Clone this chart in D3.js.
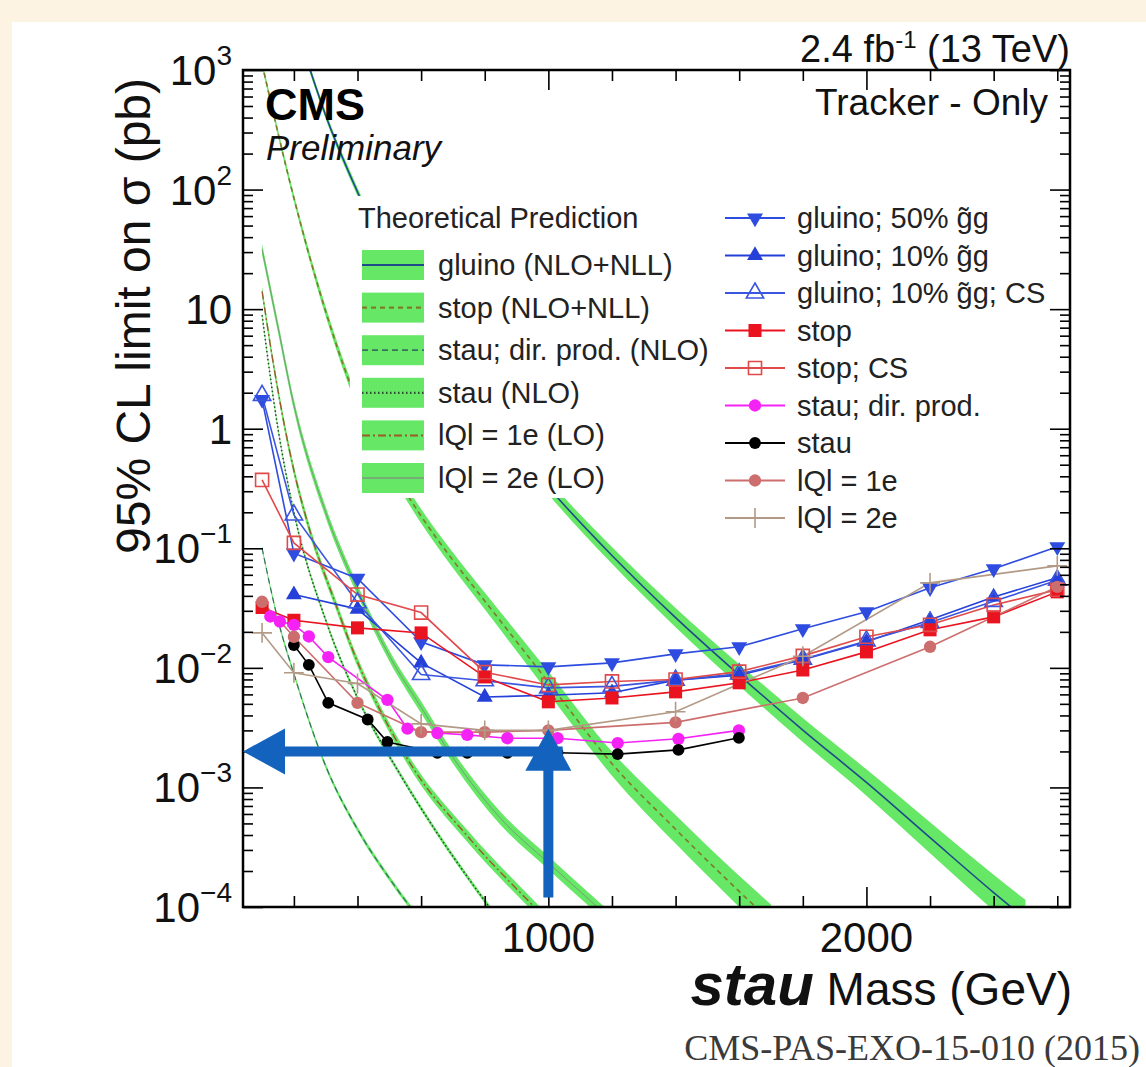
<!DOCTYPE html>
<html lang="en">
<head>
	<meta charset="UTF-8">
	<title>HSCP limits - tracker only</title>
	<script src="https://cdnjs.cloudflare.com/ajax/libs/d3/7.8.5/d3.min.js"></script>
	<style>
		body{
			margin: 0px;
			background: #fdf3e2;
		}
		svg{
			display: block;
		}
		text{
			font-family: "Liberation Sans", Arial, Helvetica, sans-serif;
		}
	</style>
</head>
<body>
	<svg></svg>
	<script>
		// ---- observed limits (pb) ----
		var massFull = [100, 200, 400, 600, 800, 1000, 1200, 1400, 1600, 1800, 2000, 2200, 2400, 2600];
		var massNo100 = [200, 400, 600, 800, 1000, 1200, 1400, 1600, 1800, 2000, 2200, 2400, 2600];
		var gluino50 = [1.75, 0.091, 0.056, 0.0165, 0.0106, 0.0102, 0.0110, 0.0131, 0.0150, 0.0212, 0.0294, 0.0467, 0.0673, 0.103];
		var gluino10 = [0.041, 0.031, 0.011, 0.0057, 0.0059, 0.0062, 0.0079, 0.0087, 0.0117, 0.0165, 0.0252, 0.0392, 0.0566];
		var gluino10CS = [1.9, 0.19, 0.035, 0.0088, 0.0078, 0.0068, 0.0070, 0.0079, 0.0089, 0.0118, 0.0168, 0.0240, 0.0360, 0.0540];
		var stop = [0.032, 0.025, 0.0216, 0.0196, 0.0084, 0.0052, 0.0056, 0.0063, 0.0075, 0.0096, 0.0136, 0.0208, 0.0267, 0.0432];
		var stopCS = [0.373, 0.111, 0.041, 0.029, 0.0092, 0.0072, 0.0077, 0.0080, 0.0093, 0.0126, 0.0182, 0.0229, 0.0336, 0.0450];

		var stauDirMass = [126, 156, 200, 247, 308, 494, 557, 651, 745, 871, 1029, 1218, 1409, 1599];
		var stauDir = [0.0269, 0.0244, 0.0229, 0.0183, 0.0123, 0.0054, 0.0031, 0.00285, 0.00275, 0.00258, 0.00258, 0.00235, 0.00255, 0.0030];
		var stauMass = [200, 247, 308, 432, 494, 651, 745, 871, 1029, 1218, 1409, 1599];
		var stau = [0.0155, 0.0106, 0.0051, 0.0037, 0.0024, 0.00195, 0.00195, 0.00195, 0.00195, 0.0019, 0.00206, 0.0026];

		var qMass = [100, 200, 400, 600, 800, 1000, 1400, 1800, 2200, 2600];
		var q1e = [0.0357, 0.0182, 0.0051, 0.0029, 0.0029, 0.0030, 0.0035, 0.0056, 0.0150, 0.0476];
		var q2e = [0.0196, 0.0091, 0.0074, 0.0034, 0.0030, 0.0030, 0.0043, 0.0125, 0.0514, 0.0713];

		// ---- theory cross sections (pb) and band half-width (dex) ----
		var gluinoThMass = [240, 300, 400, 500, 600, 800, 1000, 1200, 1400, 1600, 1800, 2000, 2200, 2400, 2500];
		var gluinoThXsec = [1230, 417, 95.5, 26.3, 9.12, 1.48, 0.324, 0.0871, 0.0263, 0.00871, 0.00302, 0.0011, 0.00038, 0.000132, 0.0000794];
		var gluinoThDex = [0.03, 0.03, 0.035, 0.035, 0.04, 0.05, 0.06, 0.07, 0.08, 0.09, 0.10, 0.11, 0.13, 0.15, 0.16];

		var stopThMass = [100, 200, 300, 400, 500, 600, 700, 800, 900, 1000, 1200, 1400, 1600, 1700];
		var stopThXsec = [1122, 85.1, 9.55, 1.66, 0.50, 0.186, 0.0794, 0.0363, 0.0166, 0.00759, 0.00158, 0.000447, 0.000135, 0.0000759];
		var stopThDex = [0.03, 0.03, 0.04, 0.045, 0.05, 0.06, 0.065, 0.07, 0.08, 0.09, 0.10, 0.12, 0.13, 0.14];

		var stauDirThMass = [100, 150, 200, 300, 400, 500, 600];
		var stauDirThXsec = [0.1, 0.0251, 0.00891, 0.00151, 0.000447, 0.000174, 0.0000759];
		var stauDirThDex = [0.02, 0.02, 0.02, 0.02, 0.02, 0.02, 0.02];

		var stauThMass = [100, 150, 200, 300, 400, 525, 650, 814, 850];
		var stauThXsec = [8.91, 1.0, 0.2, 0.0251, 0.00562, 0.00141, 0.000417, 0.0001, 0.0000741];
		var stauThDex = [0.02, 0.02, 0.02, 0.02, 0.02, 0.02, 0.02, 0.02, 0.02];

		var q1ThMass = [100, 144, 200, 250, 325, 400, 480, 578, 750, 956, 1000];
		var q1ThXsec = [14.1, 2.57, 0.447, 0.141, 0.038, 0.0112, 0.00398, 0.00141, 0.00038, 0.0001, 0.000076];
		var q1ThDex = [0.04, 0.04, 0.04, 0.04, 0.04, 0.04, 0.04, 0.045, 0.05, 0.05, 0.05];

		var q2ThMass = [100, 150, 200, 300, 400, 500, 600, 700, 850, 1000, 1154, 1200];
		var q2ThXsec = [31.6, 7.08, 1.58, 0.2, 0.0447, 0.0126, 0.00468, 0.00178, 0.00055, 0.000234, 0.0001, 0.0000776];
		var q2ThDex = [0.045, 0.045, 0.045, 0.045, 0.045, 0.045, 0.05, 0.05, 0.055, 0.055, 0.055, 0.055];

		// ---- axis labels ----
		var yTickValues = [1e3, 1e2, 10, 1, 0.1, 0.01, 0.001, 1e-4];
		var yTickBase = ["10", "10", "10", "1", "10", "10", "10", "10"];
		var yTickExp = ["3", "2", "", "", "\u22121", "\u22122", "\u22123", "\u22124"];
		var xTickValues = [1000, 2000];
		var xMinorValues = [200, 400, 600, 800, 1200, 1400, 1600, 1800, 2200, 2400, 2600];

		var arrowMass = 1000, arrowLimit = 0.002;

		window.onload = () => {
			var W = 1146,
				H = 1067,
				svg = d3.select("svg").attr("width", W).attr("height", H);

			var L = 243, R = 1070, T = 70, B = 907;
			var x = d3.scaleLinear().domain([40, 2640]).range([L, R]);
			var y = d3.scaleLog().domain([1e-4, 1e3]).range([B, T]);

			svg.append("rect").attr("width", W).attr("height", H).attr("fill", "#fdf3e2");
			svg.append("rect").attr("x", 12).attr("y", 22).attr("width", W - 12).attr("height", H - 22).attr("fill", "#fff");

			svg.append("defs").append("clipPath").attr("id", "clip")
				.append("rect").attr("x", L).attr("y", T).attr("width", R - L).attr("height", B - T);

			var plot = svg.append("g").attr("clip-path", "url(#clip)");
			var bandColor = "#66e866";

			var theory = [
				{label: "gluino (NLO+NLL)", m: gluinoThMass, s: gluinoThXsec, d: gluinoThDex, stroke: "#1f4a8a", w: 1.6, dash: null},
				{label: "stop (NLO+NLL)", m: stopThMass, s: stopThXsec, d: stopThDex, stroke: "#7f7a2a", w: 1.6, dash: "5,4"},
				{label: "stau; dir. prod. (NLO)", m: stauDirThMass, s: stauDirThXsec, d: stauDirThDex, stroke: "#3a7060", w: 1.2, dash: "6,4"},
				{label: "stau (NLO)", m: stauThMass, s: stauThXsec, d: stauThDex, stroke: "#2b4a30", w: 1.6, dash: "1.5,2.5"},
				{label: "lQl = 1e (LO)", m: q1ThMass, s: q1ThXsec, d: q1ThDex, stroke: "#9a5a2a", w: 1.4, dash: "8,3,2,3"},
				{label: "lQl = 2e (LO)", m: q2ThMass, s: q2ThXsec, d: q2ThDex, stroke: "#7d9a7d", w: 1.0, dash: null}
			];

			var band = d3.area().curve(d3.curveMonotoneX)
				.x(d => x(d.m))
				.y0(d => y(d.s * Math.pow(10, -d.d)))
				.y1(d => y(d.s * Math.pow(10, d.d)));
			var thLine = d3.line().curve(d3.curveMonotoneX).x(d => x(d.m)).y(d => y(d.s));

			theory.forEach(c => {
				c.pts = c.m.map((m, i) => ({m: m, s: c.s[i], d: c.d[i]}));
				plot.append("path").datum(c.pts).attr("d", band).attr("fill", bandColor);
			});
			theory.forEach(c => {
				plot.append("path").datum(c.pts).attr("d", thLine)
					.attr("fill", "none").attr("stroke", c.stroke).attr("stroke-width", c.w)
					.attr("stroke-dasharray", c.dash);
			});

			// measured limits
			var series = [
				{label: "gluino; 50% g\u0303g", m: massFull, s: gluino50, color: "#2e4de0", sym: d3.symbolTriangle, size: 110, rot: 180, open: false},
				{label: "gluino; 10% g\u0303g", m: massNo100, s: gluino10, color: "#2440d8", sym: d3.symbolTriangle, size: 110, rot: 0, open: false},
				{label: "gluino; 10% g\u0303g; CS", m: massFull, s: gluino10CS, color: "#3a55e0", sym: d3.symbolTriangle, size: 130, rot: 0, open: true},
				{label: "stop", m: massFull, s: stop, color: "#ea1420", sym: d3.symbolSquare, size: 170, rot: 0, open: false},
				{label: "stop; CS", m: massFull, s: stopCS, color: "#e04a4a", sym: d3.symbolSquare, size: 170, rot: 0, open: true},
				{label: "stau; dir. prod.", m: stauDirMass, s: stauDir, color: "#f522f5", sym: d3.symbolCircle, size: 120, rot: 0, open: false},
				{label: "stau", m: stauMass, s: stau, color: "#000000", sym: d3.symbolCircle, size: 110, rot: 0, open: false},
				{label: "lQl = 1e", m: qMass, s: q1e, color: "#cd6e6e", sym: d3.symbolCircle, size: 120, rot: 0, open: false},
				{label: "lQl = 2e", m: qMass, s: q2e, color: "#b39a86", sym: d3.symbolPlus, size: 130, rot: 0, open: true}
			];

			var dataLine = d3.line().x(d => x(d.m)).y(d => y(d.s));

			function marker(sel, c, px, py) {
				var p = sel.append("path")
					.attr("d", d3.symbol().type(c.sym).size(c.size)())
					.attr("transform", "translate(" + px + "," + py + ") rotate(" + c.rot + ")");
				if (c.open) {
					p.attr("fill", "none").attr("stroke", c.color).attr("stroke-width", 1.6);
				} else {
					p.attr("fill", c.color);
				}
			}

			series.forEach(c => {
				c.pts = c.m.map((m, i) => ({m: m, s: c.s[i]}));
				plot.append("path").datum(c.pts).attr("d", dataLine)
					.attr("fill", "none").attr("stroke", c.color).attr("stroke-width", 1.6);
			});
			series.forEach(c => {
				c.pts.forEach(p => marker(plot, c, x(p.m), y(p.s)));
			});

			// legends
			var leg = svg.append("g");
			leg.append("rect").attr("x", 350).attr("y", 196).attr("width", 705).attr("height", 302).attr("fill", "#fff");
			leg.append("rect").attr("x", 718).attr("y", 495).attr("width", 337).attr("height", 42).attr("fill", "#fff");

			leg.append("text").attr("x", 358).attr("y", 228).attr("font-size", 29).attr("fill", "#222")
				.text("Theoretical Prediction");

			theory.forEach((c, i) => {
				var cy = 265 + i * 42.6;
				leg.append("rect").attr("x", 362).attr("y", cy - 15).attr("width", 62).attr("height", 30).attr("fill", bandColor);
				leg.append("line").attr("x1", 362).attr("x2", 424).attr("y1", cy).attr("y2", cy)
					.attr("stroke", c.stroke).attr("stroke-width", c.w + 0.6).attr("stroke-dasharray", c.dash);
				leg.append("text").attr("x", 438).attr("y", cy + 10).attr("font-size", 29).attr("fill", "#222")
					.text(c.label);
			});

			series.forEach((c, i) => {
				var cy = 218 + i * 37.5;
				leg.append("line").attr("x1", 725).attr("x2", 785).attr("y1", cy).attr("y2", cy)
					.attr("stroke", c.color).attr("stroke-width", 1.8);
				marker(leg, c, 755, cy);
				leg.append("text").attr("x", 797).attr("y", cy + 10).attr("font-size", 29).attr("fill", "#222")
					.text(c.label);
			});

			// frame and ticks
			var yMinor = [];
			for (var k = -4; k < 3; k++) {
				for (var j = 2; j < 10; j++) yMinor.push(j * Math.pow(10, k));
			}
			function ticks(axis, tr, vals, size) {
				var a = svg.append("g").attr("transform", tr)
					.call(axis.tickValues(vals).tickSize(size).tickFormat(""));
				a.select(".domain").remove();
				a.selectAll("line").attr("stroke", "#000").attr("stroke-width", 1.6);
			}
			ticks(d3.axisRight(y), "translate(" + L + ",0)", yTickValues, 20);
			ticks(d3.axisRight(y), "translate(" + L + ",0)", yMinor, 10);
			ticks(d3.axisLeft(y), "translate(" + R + ",0)", yTickValues, 20);
			ticks(d3.axisLeft(y), "translate(" + R + ",0)", yMinor, 10);
			ticks(d3.axisTop(x), "translate(0," + B + ")", xTickValues, 20);
			ticks(d3.axisTop(x), "translate(0," + B + ")", xMinorValues, 11);
			ticks(d3.axisBottom(x), "translate(0," + T + ")", xTickValues, 20);
			ticks(d3.axisBottom(x), "translate(0," + T + ")", xMinorValues, 11);

			svg.append("rect").attr("x", L).attr("y", T).attr("width", R - L).attr("height", B - T)
				.attr("fill", "none").attr("stroke", "#000").attr("stroke-width", 2.5);

			// tick labels
			yTickValues.forEach((v, i) => {
				var t = svg.append("text").attr("x", 232).attr("y", y(v) + 15)
					.attr("text-anchor", "end").attr("font-size", 42).attr("fill", "#111");
				t.append("tspan").text(yTickBase[i]);
				if (yTickExp[i]) {
					t.append("tspan").attr("dy", -20).attr("font-size", 28).text(yTickExp[i]);
				}
			});
			xTickValues.forEach(v => {
				svg.append("text").attr("x", x(v)).attr("y", 952).attr("text-anchor", "middle")
					.attr("font-size", 42).attr("fill", "#111").text(v);
			});

			// axis titles
			svg.append("text").attr("transform", "translate(150,316) rotate(-90)")
				.attr("text-anchor", "middle").attr("font-size", 48).attr("fill", "#111")
				.text("95% CL limit on \u03c3 (pb)");
			var xt = svg.append("text").attr("x", 1072).attr("y", 1005).attr("text-anchor", "end").attr("fill", "#111");
			xt.append("tspan").attr("font-size", 60).attr("font-weight", "bold").attr("font-style", "italic").text("stau");
			xt.append("tspan").attr("font-size", 46).text(" Mass (GeV)");

			// labels
			var lumi = svg.append("text").attr("x", 1070).attr("y", 62).attr("text-anchor", "end")
				.attr("font-size", 38).attr("fill", "#111");
			lumi.append("tspan").text("2.4 fb");
			lumi.append("tspan").attr("dy", -14).attr("font-size", 24).text("-1");
			lumi.append("tspan").attr("dy", 14).text(" (13 TeV)");

			svg.append("text").attr("x", 265).attr("y", 120).attr("font-size", 45).attr("font-weight", "bold")
				.attr("fill", "#000").text("CMS");
			svg.append("text").attr("x", 266).attr("y", 160).attr("font-size", 35).attr("font-style", "italic")
				.attr("fill", "#111").text("Preliminary");
			svg.append("text").attr("x", 1048).attr("y", 115).attr("text-anchor", "end").attr("font-size", 37)
				.attr("fill", "#111").text("Tracker - Only");

			svg.append("text").attr("x", 1140).attr("y", 1060).attr("text-anchor", "end")
				.style("font-family", "'Liberation Serif', 'Times New Roman', serif").attr("font-size", 36)
				.attr("fill", "#3a3a3a").text("CMS-PAS-EXO-15-010 (2015)");

			// annotation arrows
			var arrowColor = "#1262be";
			var ax = x(arrowMass), ay = y(arrowLimit);
			svg.append("line").attr("x1", x(40) + 40).attr("x2", x(1045)).attr("y1", ay).attr("y2", ay)
				.attr("stroke", arrowColor).attr("stroke-width", 10);
			svg.append("path").attr("fill", arrowColor)
				.attr("d", "M" + x(40) + "," + ay + "L" + (x(40) + 42) + "," + (ay - 23) + "L" + (x(40) + 42) + "," + (ay + 23) + "Z");
			var tipY = y(0.0031);
			svg.append("line").attr("x1", ax).attr("x2", ax).attr("y1", y(1.2e-4)).attr("y2", tipY + 40)
				.attr("stroke", arrowColor).attr("stroke-width", 10);
			svg.append("path").attr("fill", arrowColor)
				.attr("d", "M" + ax + "," + tipY + "L" + (ax - 23) + "," + (tipY + 42) + "L" + (ax + 23) + "," + (tipY + 42) + "Z");
		}
	</script>
</body>
</html>
